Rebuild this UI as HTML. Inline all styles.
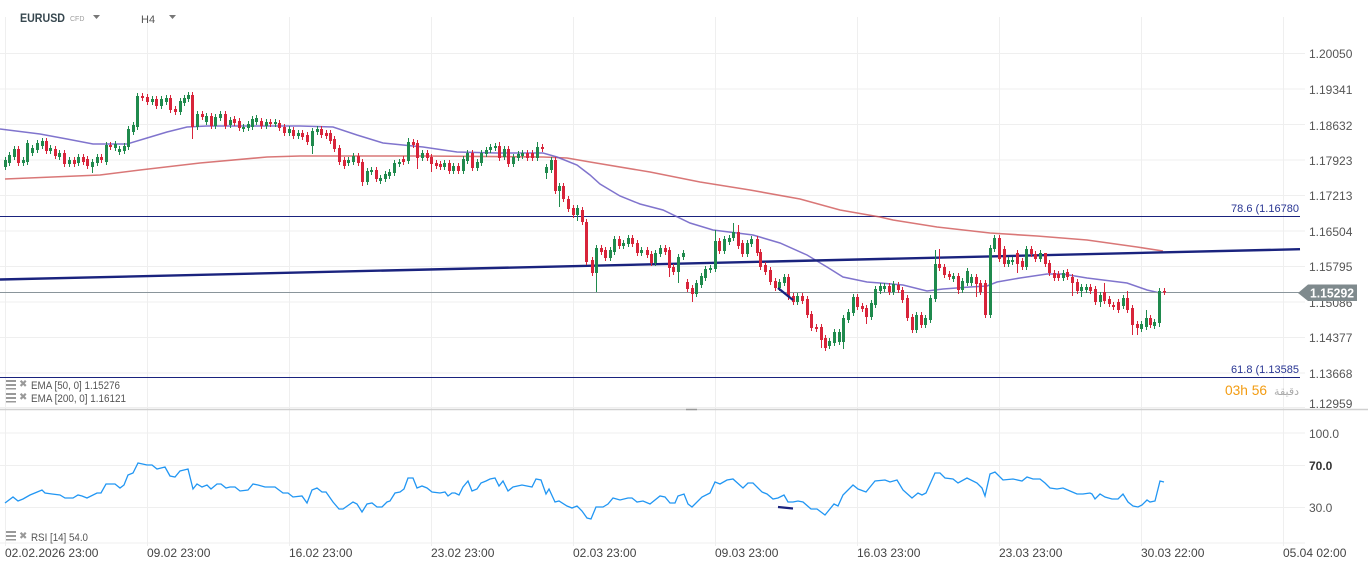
<!DOCTYPE html>
<html><head><meta charset="utf-8">
<style>
html,body{margin:0;padding:0;background:#fff;}
svg{display:block;font-family:"Liberation Sans","DejaVu Sans",sans-serif;}
</style></head>
<body>
<svg id="c" width="1368" height="569" viewBox="0 0 1368 569" xmlns="http://www.w3.org/2000/svg">
<rect width="1368" height="569" fill="#fff"/>
<g id="grid" stroke="#efefef" stroke-width="1"></g>
<!-- fib lines -->
<line x1="0" y1="216.5" x2="1300" y2="216.5" stroke="#1a237e" stroke-width="1"/>
<line x1="0" y1="377.5" x2="1300" y2="377.5" stroke="#1a237e" stroke-width="1"/>
<text x="1299" y="212" font-size="11" fill="#283593" text-anchor="end" textLength="68" lengthAdjust="spacingAndGlyphs">78.6 (1.16780</text>
<text x="1299" y="373" font-size="11" fill="#283593" text-anchor="end" textLength="68" lengthAdjust="spacingAndGlyphs">61.8 (1.13585</text>
<!-- emas -->
<polyline id="ema200" fill="none" stroke="#d05555" stroke-opacity="0.8" stroke-width="1.6"/>
<polyline id="ema50" fill="none" stroke="#6a5cc4" stroke-opacity="0.85" stroke-width="1.5"/>
<!-- current price line -->
<line x1="0" y1="292.5" x2="1300" y2="292.5" stroke="#8a959b" stroke-width="1"/>
<!-- trendline -->
<line x1="0" y1="279.5" x2="1300" y2="249.2" stroke="#1a237e" stroke-width="2.4"/>
<g id="candles"></g>
<line x1="778" y1="288" x2="793" y2="300" stroke="#1a237e" stroke-width="2.4"/>
<!-- price axis labels -->
<g font-size="12" fill="#555">
<text x="1309" y="58">1.20050</text>
<text x="1309" y="94">1.19341</text>
<text x="1309" y="130">1.18632</text>
<text x="1309" y="165">1.17923</text>
<text x="1309" y="200">1.17213</text>
<text x="1309" y="236">1.16504</text>
<text x="1309" y="271">1.15795</text>
<text x="1309" y="307">1.15086</text>
<text x="1309" y="342">1.14377</text>
<text x="1309" y="378">1.13668</text>
<text x="1309" y="408">1.12959</text>
</g>
<!-- price tag -->
<polygon points="1298,293 1308,284.5 1357,284.5 1357,301 1308,301" fill="#7f8a8d"/>
<text x="1310" y="297.5" font-size="13" font-weight="bold" fill="#fff" textLength="44" lengthAdjust="spacingAndGlyphs">1.15292</text>
<!-- countdown -->
<text x="1225" y="395" font-size="14" fill="#f39c12" textLength="42" lengthAdjust="spacingAndGlyphs">03h 56</text>
<text x="1299" y="395" font-size="11" fill="#aaa" text-anchor="end">دقيقة</text>
<!-- legends -->
<g fill="#999">
<rect x="6" y="380" width="10" height="2"/><rect x="6" y="384" width="10" height="2"/><rect x="6" y="388" width="10" height="1.5"/>
<rect x="6" y="393" width="10" height="2"/><rect x="6" y="397" width="10" height="2"/><rect x="6" y="401" width="10" height="1.5"/>
<rect x="6" y="531" width="10" height="2"/><rect x="6" y="535" width="10" height="2"/><rect x="6" y="539" width="10" height="1.5"/>
</g>
<g font-size="10" fill="#999" font-weight="bold">
<text x="19" y="387">✖</text><text x="19" y="400">✖</text><text x="19" y="539">✖</text>
</g>
<g font-size="11" fill="#555">
<text x="31" y="389" textLength="89" lengthAdjust="spacingAndGlyphs">EMA [50, 0] 1.15276</text>
<text x="31" y="402" textLength="95" lengthAdjust="spacingAndGlyphs">EMA [200, 0] 1.16121</text>
<text x="31" y="541" textLength="57" lengthAdjust="spacingAndGlyphs">RSI [14] 54.0</text>
</g>
<!-- divider -->
<line x1="0" y1="409.5" x2="1368" y2="409.5" stroke="#d0d0d0" stroke-width="1.5"/>
<line x1="686" y1="409.5" x2="697" y2="409.5" stroke="#999" stroke-width="1.5"/>
<!-- rsi -->
<polyline id="rsi" fill="none" stroke="#2196f3" stroke-width="1.3"/>
<line x1="778" y1="507" x2="793" y2="508.5" stroke="#1a237e" stroke-width="2.2"/>
<g font-size="12" fill="#555">
<text x="1309" y="438">100.0</text>
<text x="1309" y="470" font-weight="bold" fill="#333">70.0</text>
<text x="1309" y="512">30.0</text>
</g>
<!-- time axis -->
<g font-size="12" fill="#444">
<text x="5" y="557">02.02.2026 23:00</text>
<text x="147" y="557">09.02 23:00</text>
<text x="289" y="557">16.02 23:00</text>
<text x="431" y="557">23.02 23:00</text>
<text x="573" y="557">02.03 23:00</text>
<text x="715" y="557">09.03 23:00</text>
<text x="857" y="557">16.03 23:00</text>
<text x="999" y="557">23.03 23:00</text>
<text x="1141" y="557">30.03 22:00</text>
<text x="1283" y="557">05.04 02:00</text>
</g>
<!-- header -->
<text x="20" y="22" font-size="11.5" font-weight="bold" fill="#37474f" textLength="45" lengthAdjust="spacingAndGlyphs">EURUSD</text>
<text x="70" y="21" font-size="7" fill="#9e9e9e">CFD</text>
<polygon points="93,15 100,15 96.5,19" fill="#777"/>
<text x="141" y="23" font-size="11" fill="#555">H4</text>
<polygon points="169,15 176,15 172.5,19" fill="#777"/>
</svg>
<script>
(function(){
var NS="http://www.w3.org/2000/svg";
function el(t,a,p){var e=document.createElementNS(NS,t);for(var k in a)e.setAttribute(k,a[k]);p.appendChild(e);return e;}
var g=document.getElementById('grid');
for(var k=0;k<11;k++){var y=53.5+35.5*k;if(k==10)y=407.5;el('line',{x1:0,y1:y,x2:1305,y2:y},g);}
[433,465.5,507.5,543].forEach(function(y){el('line',{x1:0,y1:y,x2:1305,y2:y},g);});
var vx=[5,147,289,431,573,715,857,999,1141,1283];
vx.forEach(function(x){el('line',{x1:x+0.5,y1:17,x2:x+0.5,y2:546},g);});
var C=[[5,167,160],[9,163,155],[14,157,149],[18,149,163],[23,163,160],[27,162,143],[32,153,148],[37,150,143],[42,146,141],[46,141,151],[50,151,148],[55,149,156],[59,157,153],[64,153,164],[69,164,160],[74,160,164],[78,163,157],[83,157,162],[87,159,166],[92,167,162],[97,163,157],[101,157,160],[106,162,145],[110,145,147],[115,148,144],[119,152,149],[124,151,146],[128,147,129],[133,132,125],[137,127,96],[142,96,98],[147,97,102],[152,102,99],[156,99,106],[161,106,99],[166,102,98],[170,98,110],[175,109,112],[180,112,101],[184,103,98],[188,99,95],[192,95,127],[197,127,114],[202,114,117],[206,122,116],[211,116,126],[215,126,117],[220,118,114],[225,114,126],[230,125,120],[234,119,123],[239,121,128],[243,129,127],[248,128,124],[252,127,119],[256,122,118],[261,121,126],[266,126,122],[270,122,124],[275,124,122],[279,123,128],[284,127,133],[289,133,129],[293,130,136],[298,136,133],
[302,133,137],[307,135,142],[312,146,131],[317,132,129],[321,129,135],[326,133,136],[330,133,141],[334,139,149],[339,148,162],[344,160,166],[348,163,160],[353,162,156],[358,156,163],[362,162,182],[367,182,171],[371,172,170],[376,170,179],[380,181,178],[385,179,174],[389,176,172],[394,173,163],[399,164,162],[403,159,162],[408,161,142],[413,142,145],[417,143,158],[422,158,153],[427,153,158],[431,157,164],[436,163,166],[440,164,167],[444,167,163],[449,163,171],[453,171,166],[458,166,171],[463,171,159],[467,161,153],[472,153,168],[477,168,162],[481,163,153],[486,154,150],[490,150,147],[495,148,146],[499,146,158],[504,157,149],[508,149,164],[513,164,157],[518,158,154],[522,156,153],[527,153,158],[532,153,158],[537,158,147],[542,147,149],[546,173,167],[551,170,160],[555,160,191],[559,191,186],[563,186,199],[568,199,209],[573,208,215],[577,215,208],[582,210,222],[586,222,262],
[592,260,273],[596,273,248],[601,248,252],[605,250,258],[610,258,250],[614,252,239],[619,239,246],[623,246,243],[628,244,238],[632,238,244],[637,243,253],[641,253,250],[647,250,255],[651,254,263],[655,263,253],[660,254,248],[665,248,252],[669,250,268],[673,267,272],[678,272,257],[683,257,253],[687,282,289],[692,288,294],[696,294,283],[701,285,276],[705,278,269],[710,270,268],[715,269,241],[719,241,251],[724,251,239],[729,242,238],[733,238,232],[738,232,246],[742,243,254],[747,254,243],[751,244,239],[757,239,253],[760,252,267],[765,265,272],[770,270,282],[775,281,288],[779,288,282],[784,283,277],[788,277,297],[793,296,302],[797,302,296],[802,296,301],[807,299,315],[811,314,328],[816,327,329],[821,327,340],[825,338,348],[829,346,341],[834,343,332],[839,342,332],[843,342,318],[848,320,312],[853,313,297],[857,297,307],[862,306,309],[866,308,317],[871,317,303],[875,305,289],
[880,291,286],[884,289,286],[889,286,292],[893,292,284],[898,285,290],[902,290,300],[907,298,318],[912,317,330],[916,330,315],[921,315,325],[925,325,318],[930,320,298],[935,299,264],[939,264,268],[944,267,275],[949,274,277],[953,279,276],[958,276,290],[962,290,281],[967,283,271],[971,283,277],[976,277,284],[980,283,292],[985,283,315],[990,315,248],[994,249,238],[999,238,259],[1004,249,264],[1008,264,260],[1012,262,260],[1017,253,264],[1022,261,267],[1026,267,249],[1031,249,254],[1035,254,259],[1040,259,253],[1045,253,264],[1049,263,273],[1054,273,278],[1058,274,278],[1063,278,273],[1067,272,277],[1072,277,283],[1077,282,291],[1081,291,287],[1086,290,287],[1090,287,291],[1095,289,302],[1100,302,295],[1104,292,301],[1109,299,304],[1113,305,307],[1118,302,310],[1123,306,298],[1127,298,310],[1132,308,325],[1137,324,328],[1141,329,324],[1146,327,318],[1150,318,325],[1154,326,322],[1159,323,291],[1164,291,292]];
var O={92:[null,173],192:[null,139],312:[null,154],362:[null,186],417:[null,169],431:[null,172],408:[138,null],499:[142,null],537:[142,null],546:[null,179],559:[null,207],577:[null,221],596:[null,292],669:[null,277],678:[null,283],692:[null,302],715:[230,null],733:[223,null],738:[225,null],784:[274,null],821:[null,348],843:[null,349],853:[294,null],866:[null,324],912:[null,333],935:[250,null],939:[249,null],958:[null,294],976:[null,297],999:[235,null],1017:[null,273],1045:[255,null],1072:[null,296],1081:[null,297],1100:[null,307],1104:[283,null],1127:[291,null],1132:[null,335],1137:[null,335],1146:[310,null],1159:[null,327]};
var cg=document.getElementById('candles');
C.forEach(function(c){
 var x=c[0],o=c[1],cl=c[2];var up=cl<o;var col=up?'#1f8a4d':'#d8243a';
 var top=Math.min(o,cl),bot=Math.max(o,cl);
 var hi=top-3,lo=bot+3;var ov=O[x];if(ov){if(ov[0]!=null)hi=ov[0];if(ov[1]!=null)lo=ov[1];}
 el('line',{x1:x+0.5,y1:hi,x2:x+0.5,y2:lo,stroke:col,'stroke-width':1},cg);
 var h=Math.max(bot-top,1.5);
 el('rect',{x:x-1,y:top,width:3,height:h,fill:col},cg);
});
function pts(a){return a.map(function(p){return p[0]+','+p[1];}).join(' ');}
document.getElementById('ema50').setAttribute('points',pts([[0,129],[40,134],[67,139],[93,144],[127,144],[147,138],[167,132],[187,127],[207,126],[300,126],[333,127],[357,135],[383,143],[423,147],[457,152],[497,153],[543,153],[557,157],[577,165],[590,175],[600,184],[620,196],[640,204],[663,210],[690,223],[713,230],[753,235],[780,243],[807,255],[827,267],[843,277],[867,282],[880,283],[903,285],[927,291],[943,289],[970,287],[987,286],[997,282],[1020,278],[1047,274],[1063,274],[1087,278],[1103,280],[1127,283],[1147,290],[1160,293]]));
document.getElementById('ema200').setAttribute('points',pts([[5,179],[100,175],[140,170],[200,163],[267,157],[300,156],[423,156],[543,157],[567,158],[590,162],[650,172],[700,182],[750,190],[800,199],[840,210],[880,217],[893,220],[937,227],[990,233],[1037,236],[1087,240],[1137,247],[1163,251]]));
document.getElementById('rsi').setAttribute('points',pts([[5,503],[13,497],[18,501],[23,499],[30,495],[42,490],[45,493],[52,494],[60,495],[65,498],[73,498],[78,495],[82,496],[87,498],[97,493],[101,493],[106,484],[115,484],[120,488],[124,485],[128,475],[133,473],[138,463],[147,465],[152,465],[157,469],[165,467],[170,476],[175,477],[180,471],[188,469],[193,489],[197,484],[202,487],[207,485],[211,489],[217,484],[221,484],[226,488],[230,487],[235,487],[240,491],[248,490],[253,484],[258,485],[265,487],[275,487],[283,493],[288,493],[293,497],[302,496],[307,503],[312,490],[317,488],[322,492],[326,492],[333,502],[339,509],[343,509],[353,502],[357,504],[362,512],[367,504],[372,503],[377,507],[382,507],[387,502],[390,501],[395,493],[400,492],[404,489],[408,478],[413,478],[417,488],[422,486],[427,488],[432,492],[440,493],[445,492],[448,496],[452,493],[455,493],[459,495],[463,487],[468,481],[472,491],[477,489],[481,483],[486,481],[490,479],[495,478],[499,486],[503,481],[508,491],[513,487],[522,485],[532,487],[536,479],[541,480],[546,494],[549,489],[555,502],[559,501],[567,506],[572,508],[577,506],[582,511],[587,518],[591,519],[596,507],[603,507],[608,504],[613,498],[620,500],[628,498],[632,498],[637,502],[643,501],[650,504],[660,496],[665,497],[670,503],[675,503],[678,496],[684,494],[688,504],[692,507],[702,497],[710,493],[715,482],[720,484],[727,480],[733,479],[743,488],[748,483],[753,483],[762,492],[767,494],[773,499],[778,498],[784,495],[788,502],[793,502],[798,501],[803,502],[811,509],[817,509],[825,515],[834,504],[838,506],[843,495],[853,485],[858,489],[866,492],[875,481],[885,480],[890,482],[897,480],[903,490],[912,498],[918,493],[922,495],[926,493],[935,473],[940,473],[945,478],[953,479],[958,483],[967,478],[977,483],[982,488],[985,496],[990,474],[995,472],[1003,480],[1013,479],[1022,481],[1027,477],[1033,479],[1040,479],[1045,483],[1050,488],[1057,489],[1063,488],[1070,491],[1077,494],[1083,494],[1090,493],[1092,494],[1095,499],[1100,494],[1105,497],[1112,499],[1118,499],[1123,494],[1128,502],[1133,506],[1138,507],[1142,505],[1147,500],[1150,502],[1155,501],[1160,481],[1164,482]]));
})();
</script>
</body></html>
